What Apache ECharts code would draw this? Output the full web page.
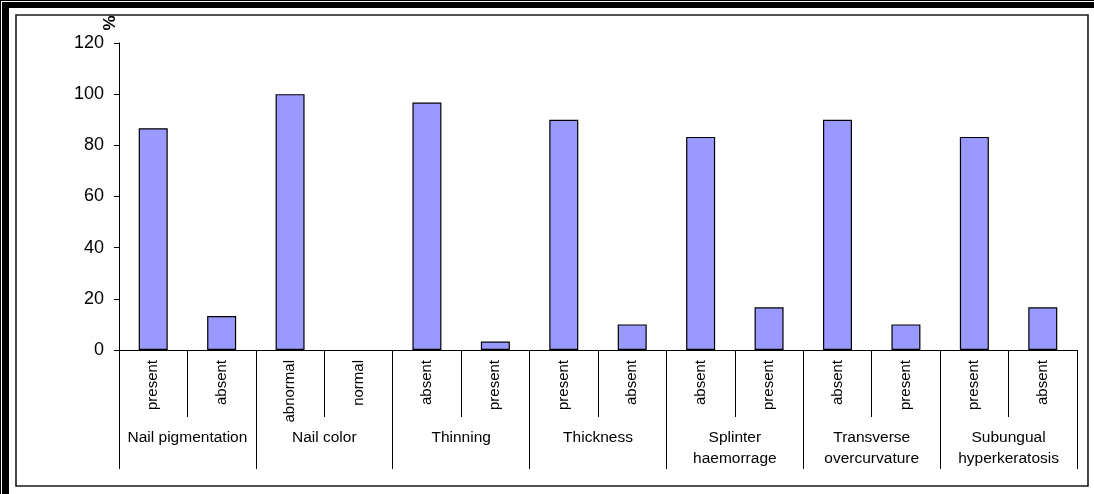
<!DOCTYPE html>
<html>
<head>
<meta charset="utf-8">
<script src="https://cdn.jsdelivr.net/npm/echarts@6/dist/echarts.min.js"></script>
<style>
  html, body { margin: 0; padding: 0; background: #fff; }
  #chart { width: 1094px; height: 494px; }
</style>
</head>
<body>
<div id="chart"></div>
<script>
// Nail findings: percentage of cases per sign, two outcomes per sign
const groups = ['Nail pigmentation', 'Nail color', 'Thinning', 'Thickness',
  'Splinter\nhaemorrage', 'Transverse\novercurvature', 'Subungual\nhyperkeratosis'];
const outcomes = ['present', 'absent', 'abnormal', 'normal', 'absent', 'present',
  'present', 'absent', 'absent', 'present', 'absent', 'present', 'present', 'absent'];
const percents = [86.7, 13.3, 100, 0, 96.7, 3.3, 90, 10, 83.3, 16.7, 90, 10, 83.3, 16.7];
const yTicks = [0, 20, 40, 60, 80, 100, 120];

const font = 'Arial, "Liberation Sans", sans-serif';
const chart = echarts.init(document.getElementById('chart'));

// a zero-height bar gets no outline
const barData = percents.map(v => v === 0 ? { value: v, itemStyle: { borderWidth: 0 } } : v);

chart.setOption({
  animation: false,
  backgroundColor: '#fff',
  grid: { left: 119, right: 17, top: 43, bottom: 144, containLabel: false },
  xAxis: [
    {
      type: 'category',
      data: outcomes,
      position: 'bottom',
      boundaryGap: true,
      axisLine: { show: true, lineStyle: { color: '#000', width: 1 } },
      axisTick: { show: true, interval: 0, length: 67, lineStyle: { color: '#000', width: 1 } },
      axisLabel: {
        interval: 0, rotate: 90, margin: 10,
        color: '#000', fontFamily: font, fontSize: 15
      },
      splitLine: { show: false }
    },
    {
      type: 'category',
      data: groups,
      position: 'bottom',
      offset: 0,
      boundaryGap: true,
      axisLine: { show: false },
      axisTick: { show: true, interval: 0, length: 119, lineStyle: { color: '#000', width: 1 } },
      axisLabel: {
        interval: 0, margin: 77, color: '#000', fontFamily: font, fontSize: 15.5,
        lineHeight: 21, verticalAlign: 'top', align: 'center'
      },
      splitLine: { show: false }
    }
  ],
  yAxis: {
    type: 'value',
    min: yTicks[0],
    max: yTicks[yTicks.length - 1],
    interval: 20,
    axisLine: { show: true, lineStyle: { color: '#000', width: 1 } },
    axisTick: { show: true, inside: false, length: 5, lineStyle: { color: '#000' } },
    axisLabel: { margin: 15, color: '#000', fontFamily: font, fontSize: 18 },
    splitLine: { show: false }
  },
  series: [{
    type: 'bar',
    xAxisIndex: 0,
    data: barData,
    barWidth: 29,
    itemStyle: { color: '#9999FF', borderColor: '#000', borderWidth: 1.2 }
  }],
  graphic: [
    // outer heavy border
    { type: 'rect', shape: { x: 0, y: 0, width: 1094, height: 1 }, style: { fill: '#000' } },
    { type: 'rect', shape: { x: 2, y: 2, width: 1092, height: 6 }, style: { fill: '#000' } },
    { type: 'rect', shape: { x: 0, y: 0, width: 1, height: 494 }, style: { fill: '#000' } },
    { type: 'rect', shape: { x: 2, y: 2, width: 7, height: 492 }, style: { fill: '#000' } },
    // inner chart frame
    {
      type: 'rect', shape: { x: 16, y: 15, width: 1072, height: 471 },
      style: { fill: 'none', stroke: '#1a1a1a', lineWidth: 1.6 }, z: -1
    },
    // y-axis unit
    {
      type: 'text', x: 110, y: 23, rotation: Math.PI / 2,
      style: {
        text: '%', fill: '#000', font: 'bold 17px ' + font,
        align: 'center', verticalAlign: 'middle'
      }
    }
  ]
});
</script>
</body>
</html>
